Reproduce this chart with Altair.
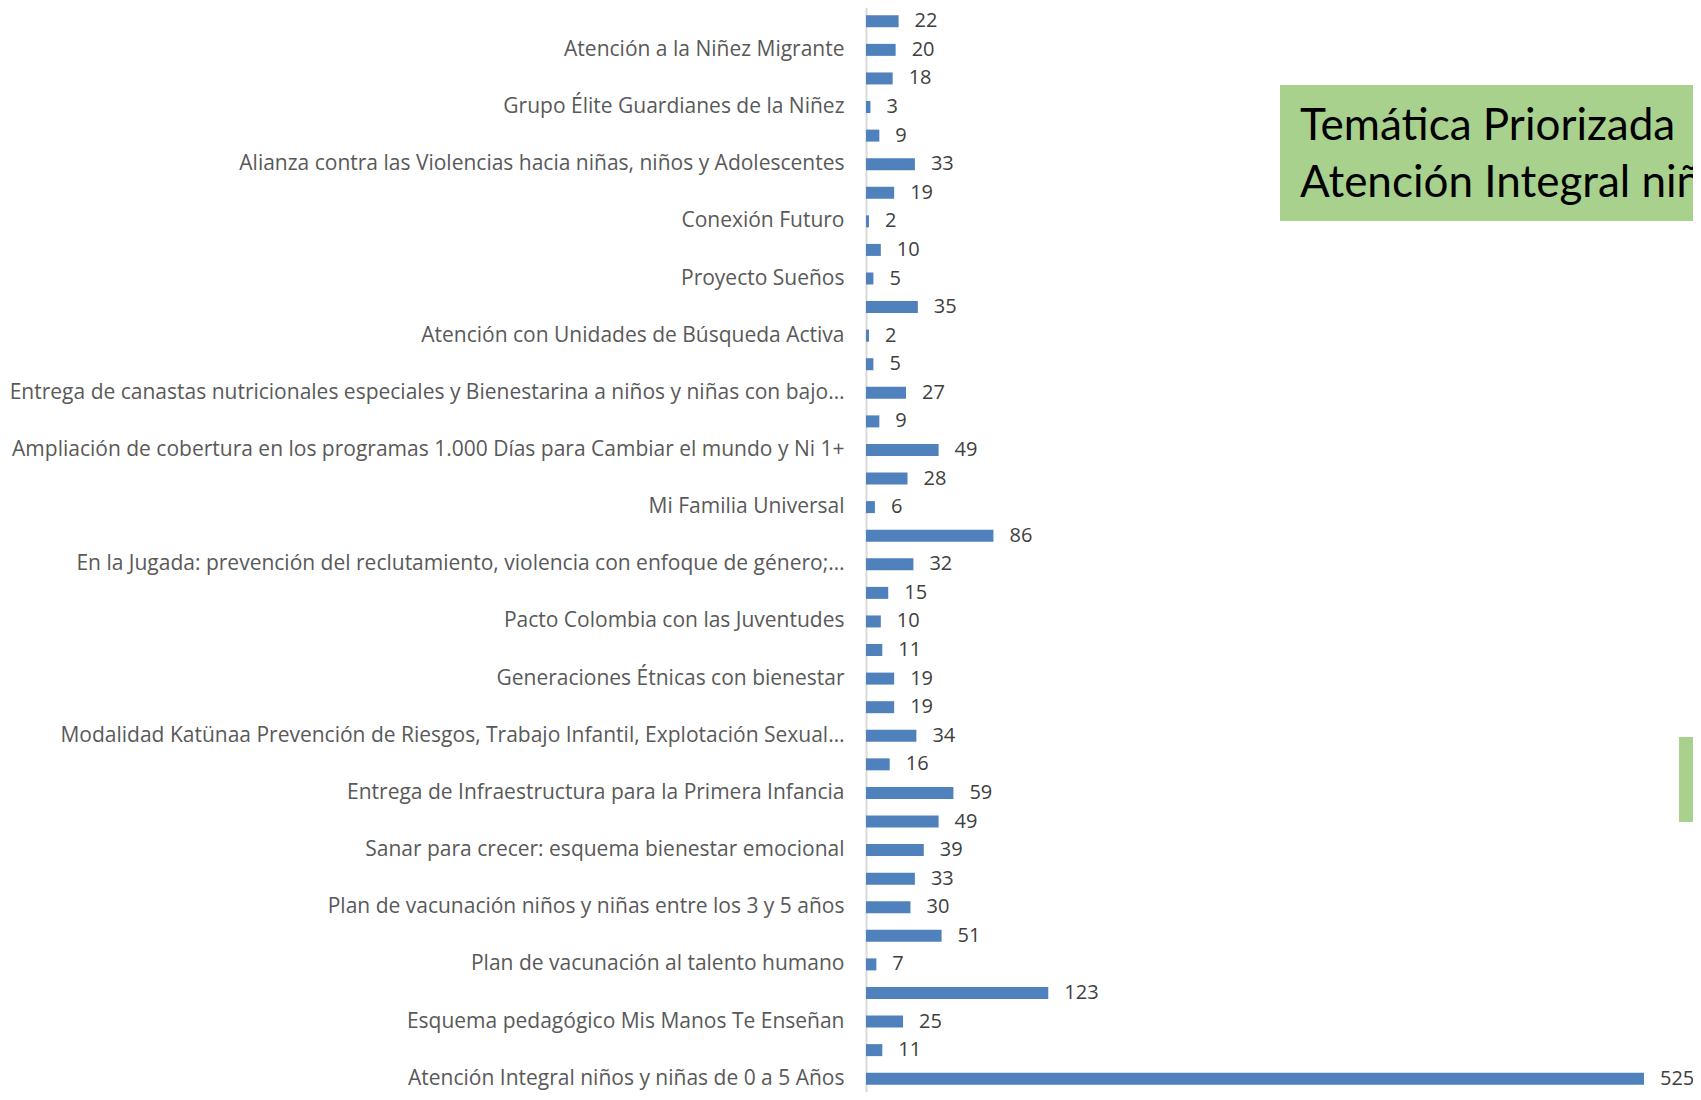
import json
import altair as alt
import pandas as pd

values = [22, 20, 18, 3, 9, 33, 19, 2, 10, 5, 35, 2, 5, 27, 9, 49, 28, 6, 86,
          32, 15, 10, 11, 19, 19, 34, 16, 59, 49, 39, 33, 30, 51, 7, 123, 25, 11, 525]

labels = [
    "", "Atención a la Niñez Migrante",
    "", "Grupo Élite Guardianes de la Niñez",
    "", "Alianza contra las Violencias hacia niñas, niños y Adolescentes",
    "", "Conexión Futuro",
    "", "Proyecto Sueños",
    "", "Atención con Unidades de Búsqueda Activa",
    "", "Entrega de canastas nutricionales especiales y Bienestarina a niños y niñas con bajo…",
    "", "Ampliación de cobertura en los programas 1.000 Días para Cambiar el mundo y Ni 1+",
    "", "Mi Familia Universal",
    "", "En la Jugada: prevención del reclutamiento, violencia con enfoque de género;…",
    "", "Pacto Colombia con las Juventudes",
    "", "Generaciones Étnicas con bienestar",
    "", "Modalidad Katünaa  Prevención de Riesgos, Trabajo Infantil, Explotación Sexual…",
    "", "Entrega de Infraestructura para la Primera Infancia",
    "", "Sanar para crecer: esquema bienestar emocional",
    "", "Plan de vacunación niños y niñas entre los 3 y 5 años",
    "", "Plan de vacunación al talento humano",
    "", "Esquema pedagógico Mis Manos Te Enseñan",
    "", "Atención Integral niños y niñas de 0 a 5 Años",
]

box_lines = ["Temática Priorizada", "Atención Integral niños y niñas de 0 a 5 Años"]

df = pd.DataFrame({"idx": list(range(len(values))), "value": values})

FONT = "Open Sans"
label_expr = json.dumps(labels, ensure_ascii=False) + "[datum.value]"

y_enc = alt.Y(
    "idx:O",
    sort="ascending",
    title=None,
    scale=alt.Scale(range=[-1, 1085], paddingInner=0.58, paddingOuter=0.29),
    axis=alt.Axis(
        labelExpr=label_expr,
        ticks=False,
        domainColor="#D9D9D9",
        domainWidth=2,
        labelPadding=22,
        labelFontSize=21,
        labelFont=FONT,
        labelColor="#595959",
        labelLimit=1000,
    ),
)
x_enc = alt.X("value:Q", axis=None, scale=alt.Scale(domain=[0, 525], nice=False))

base = alt.Chart(df)
bars = base.mark_bar(color="#4F81BD", size=12).encode(x=x_enc, y=y_enc)
nums = base.mark_text(
    align="left", baseline="middle", dx=16, fontSize=20, font=FONT, color="#404040"
).encode(x=x_enc, y=y_enc, text="value:Q")

box = alt.Chart(alt.Data(values=[{}])).mark_rect(color="#A9D18E").encode(
    x=alt.value(414), x2=alt.value(860), y=alt.value(77), y2=alt.value(213)
)
box_text = alt.Chart(alt.Data(values=[{}])).mark_text(
    text=box_lines, align="left", baseline="alphabetic", fontSize=44, font="Lato",
    color="#000000", lineHeight=57
).encode(x=alt.value(434), y=alt.value(132))
side = alt.Chart(alt.Data(values=[{}])).mark_rect(color="#A9D18E").encode(
    x=alt.value(813), x2=alt.value(860), y=alt.value(729), y2=alt.value(814)
)

chart = alt.layer(bars, nums, box, box_text, side).properties(
    width=778,
    height=1084,
    padding={"left": 858, "top": 0, "right": 49, "bottom": 0},
    autosize=alt.AutoSizeParams(type="none"),
).configure_view(strokeWidth=0)

chart.save("out.html", embed_options={"renderer": "svg", "actions": False})
